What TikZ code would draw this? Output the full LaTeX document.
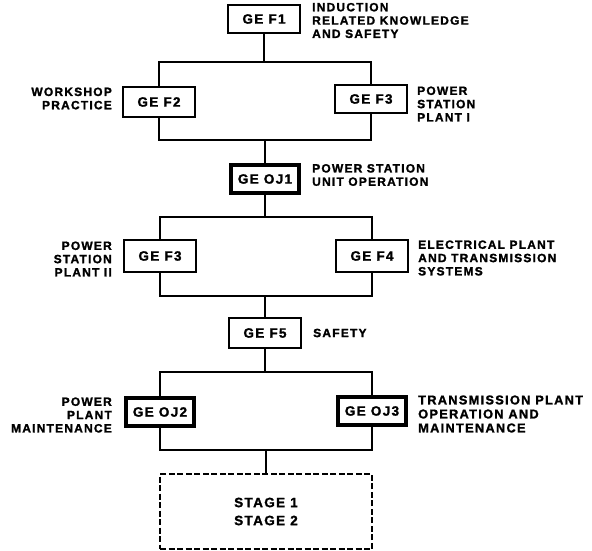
\documentclass[tikz,border=0pt]{standalone}
\usepackage{fontspec}
\setmainfont{Liberation Sans}[LetterSpace=10, BoldFeatures={FakeBold=1.5}]
\begin{document}
\begin{tikzpicture}[x=1pt,y=1pt,
  box/.style={draw, line width=1.6pt, minimum width=72pt, minimum height=30pt, inner sep=0pt,
    font=\bfseries\fontsize{13.5}{15}\selectfont},
  thickbox/.style={box, line width=4pt, minimum width=68pt, minimum height=28pt},
  lab/.style={font=\bfseries\fontsize{12}{13.3}\selectfont, inner sep=0pt},
  biglab/.style={lab, font=\bfseries\fontsize{12.8}{14}\selectfont},
  conn/.style={line width=1.3pt},
  stagebox/.style={draw, line width=1.3pt, dash pattern=on 6pt off 2.5pt, minimum width=212pt,
    minimum height=75pt, align=left, font=\bfseries\fontsize{13.5}{18}\selectfont}]
\useasboundingbox (0,0) rectangle (592,-551);

% boxes
\node[box, minimum height=28pt] (f1) at (264,-19) {GE F1};
\node[box] (f2) at (159,-102) {GE F2};
\node[box, minimum height=28pt] (f3a) at (371,-99) {GE F3};
\node[thickbox] (oj1) at (265,-179) {GE OJ1};
\node[box, minimum height=32pt] (f3b) at (160,-256) {GE F3};
\node[box, minimum height=32pt] (f4) at (372,-256) {GE F4};
\node[box, line width=2pt] (f5) at (265,-333) {GE F5};
\node[thickbox] (oj2) at (160,-412) {GE OJ2};
\node[thickbox] (oj3) at (372,-411) {GE OJ3};
\node[stagebox] (stage) at (266,-511.5) {STAGE 1\\STAGE 2};

% labels
\node[lab, anchor=west, align=left] (l1) at (312,-20.5) {INDUCTION\\RELATED KNOWLEDGE\\AND SAFETY};
\node[lab, anchor=east, align=right] (l2) at (112,-98.5) {WORKSHOP\\PRACTICE};
\node[lab, anchor=west, align=left] (l3) at (417,-104) {POWER\\STATION\\PLANT I};
\node[lab, anchor=west, align=left] (l4) at (312,-175) {POWER STATION\\UNIT OPERATION};
\node[lab, anchor=east, align=right] (l5) at (112,-259) {POWER\\STATION\\PLANT II};
\node[lab, anchor=west, align=left] (l6) at (418,-258) {ELECTRICAL PLANT\\AND TRANSMISSION\\SYSTEMS};
\node[lab, anchor=west] (l7) at (313,-333) {SAFETY};
\node[lab, anchor=east, align=right] (l8) at (112,-415) {POWER\\PLANT\\MAINTENANCE};
\node[biglab, anchor=west, align=left] (l9) at (418,-414) {TRANSMISSION PLANT\\OPERATION AND\\MAINTENANCE};

% connectors
\coordinate (h1) at (0,-62);
\coordinate (h2) at (0,-140);
\coordinate (h3) at (0,-217);
\coordinate (h4) at (0,-296);
\coordinate (h5) at (0,-372);
\coordinate (h6) at (0,-450);
\draw[conn] (f1.south) -- (f1.south |- h1);
\draw[conn] (f2.north) -- (f2.north |- h1) -- (f3a.north |- h1) -- (f3a.north);
\draw[conn] (f2.south) -- (f2.south |- h2) -- (f3a.south |- h2) -- (f3a.south);
\draw[conn] (oj1.north) -- (oj1.north |- h2);
\draw[conn] (oj1.south) -- (oj1.south |- h3);
\draw[conn] (f3b.north) -- (f3b.north |- h3) -- (f4.north |- h3) -- (f4.north);
\draw[conn] (f3b.south) -- (f3b.south |- h4) -- (f4.south |- h4) -- (f4.south);
\draw[conn] (f5.north) -- (f5.north |- h4);
\draw[conn] (f5.south) -- (f5.south |- h5);
\draw[conn] (oj2.north) -- (oj2.north |- h5) -- (oj3.north |- h5) -- (oj3.north);
\draw[conn] (oj2.south) -- (oj2.south |- h6) -- (oj3.south |- h6) -- (oj3.south);
\draw[conn] (stage.north) -- (stage.north |- h6);
\end{tikzpicture}
\end{document}
